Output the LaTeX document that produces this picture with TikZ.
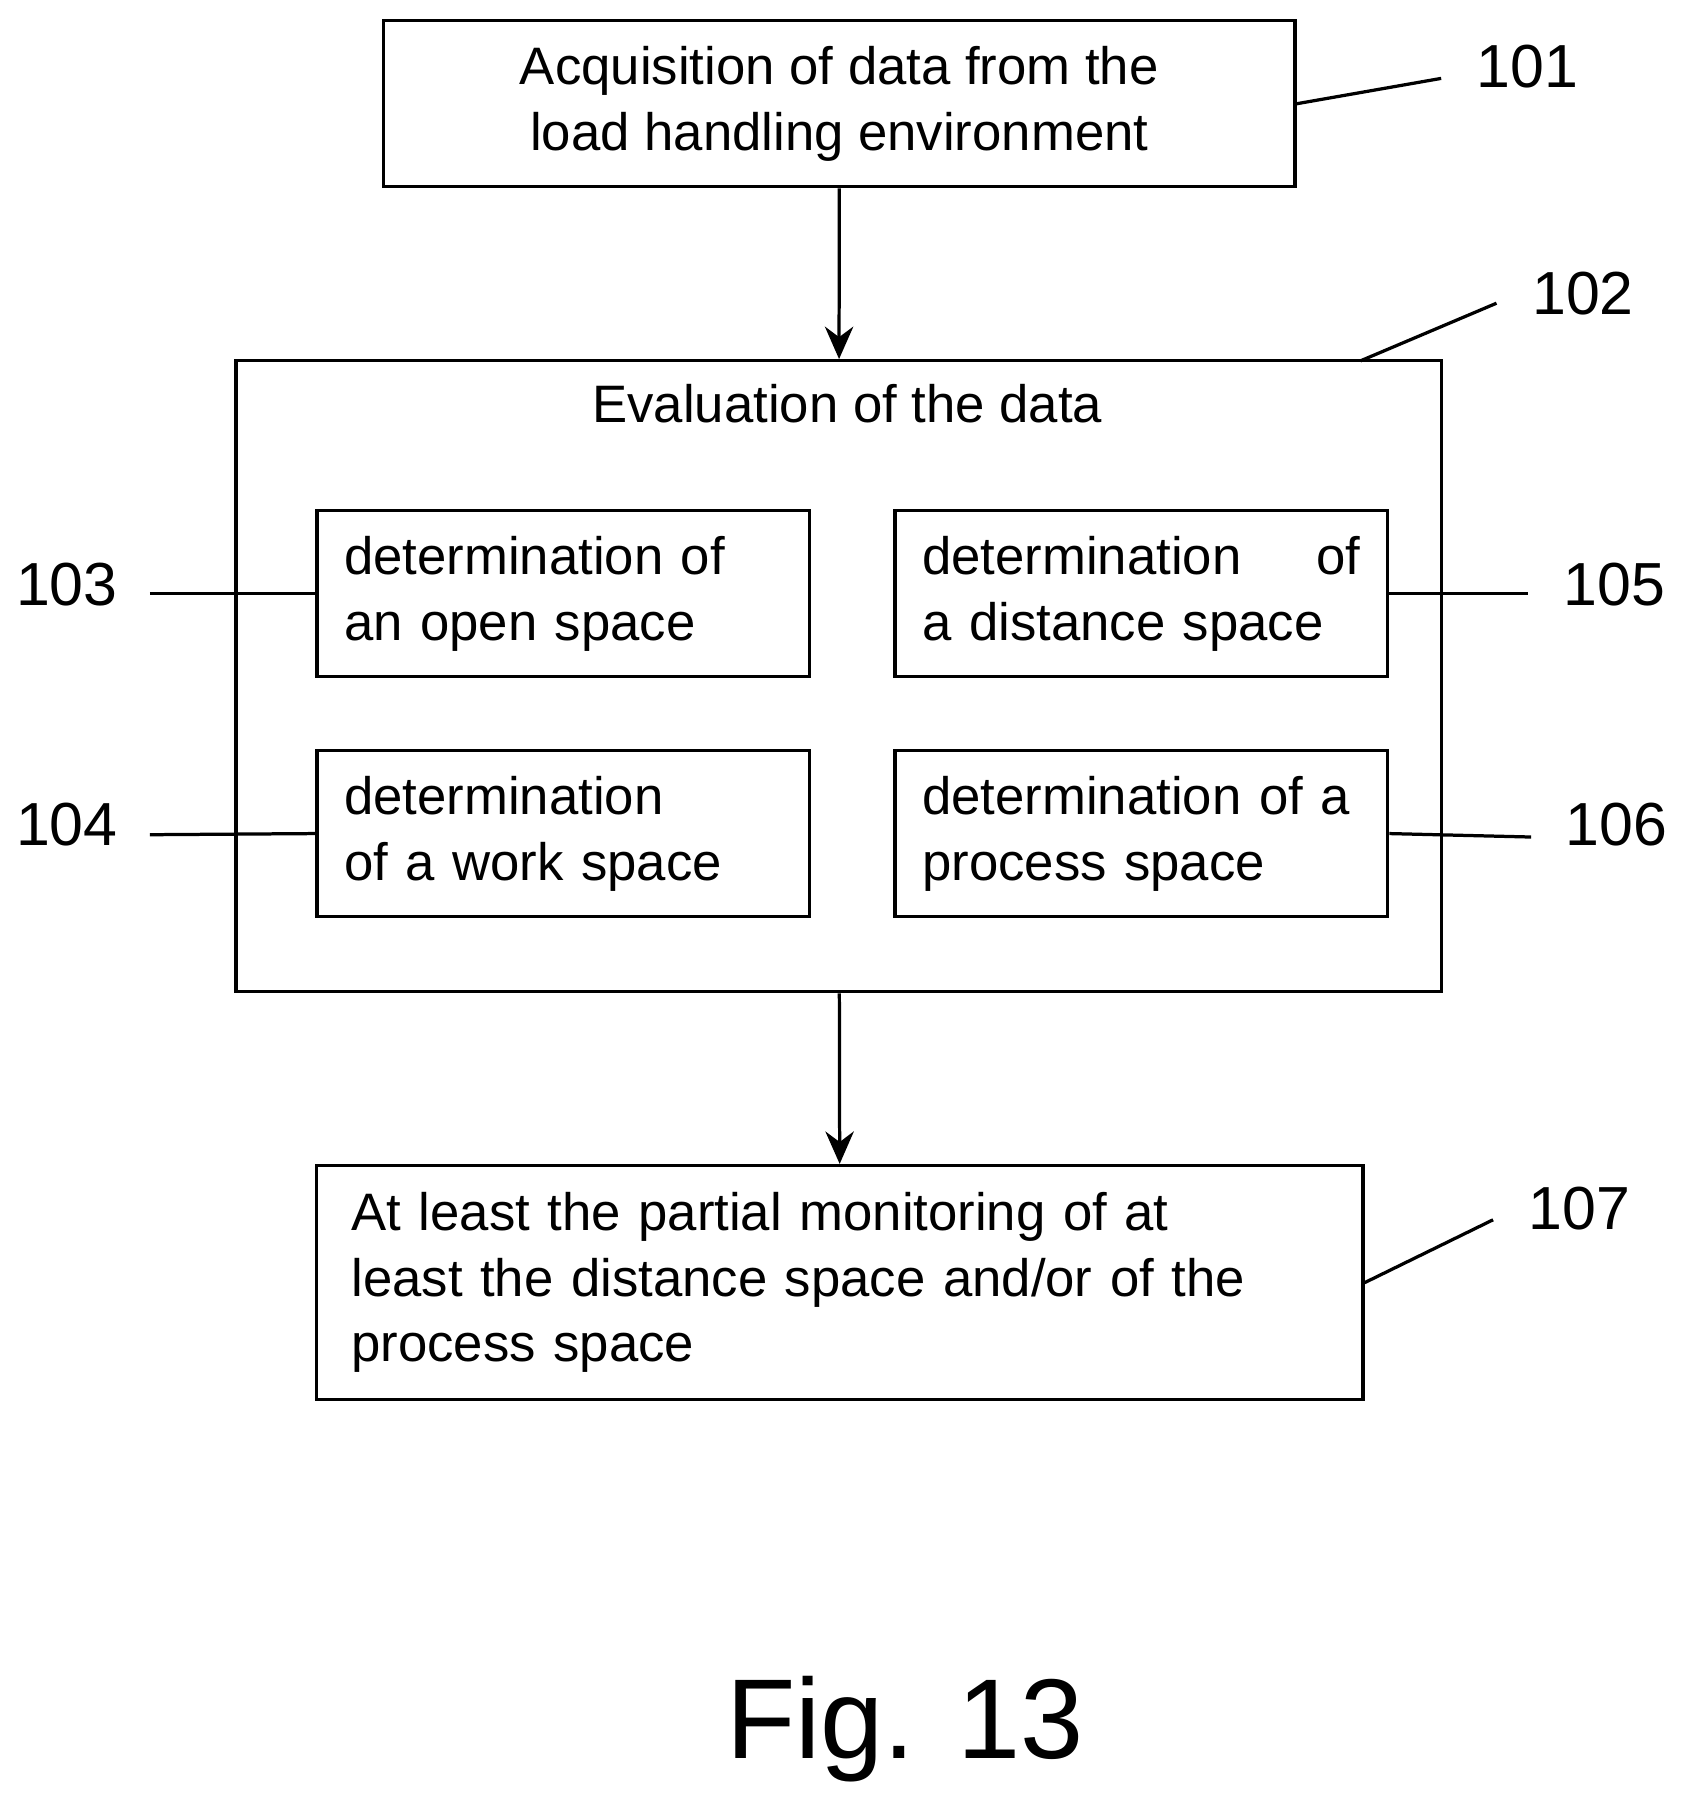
\documentclass[tikz,border=0pt]{standalone}
\usepackage{fontspec}
\setmainfont{Liberation Sans}
\usetikzlibrary{arrows.meta,positioning}
\tikzset{
    stage/.style={draw, thick, inner sep=0pt, font=\fontsize{13}{16.2}\selectfont},
    sub/.style={stage, minimum width=4.27cm, minimum height=1.44cm, text width=3.8cm, align=left},
    ref/.style={font=\fontsize{15}{18}\selectfont},
    flow/.style={thick, -{Stealth[length=8pt,width=7pt]}}
}
\begin{document}
\begin{tikzpicture}[x=0.01cm,y=-0.01cm]
\useasboundingbox (0,0) rectangle (1470,1576);
% boxes
\node[stage, minimum width=7.9cm, minimum height=1.44cm, align=center] (acq) at (728,90)
  {Acquisition of data from the\\load handling environment};
\node[stage, minimum width=10.45cm, minimum height=5.47cm] (eval) at (727.5,586.5) {};
\node[font=\fontsize{13}{16.2}\selectfont] (evtitle) at (735,350) {Evaluation of the data};
\node[sub] (open) at (488.5,515) {determination of\\an open space};
\node[sub] (dist) at (990,515) {determination\hfill of\\a distance space};
\node[sub] (work) at (488.5,723) {determination\\of a work space};
\node[sub] (proc) at (990,723) {determination of a\\process space};
\node[stage, minimum width=9.07cm, minimum height=2.03cm, text width=8.47cm, align=left] (mon) at (728.5,1112.5)
  {At least the partial monitoring of at\\least the distance space and/or of the\\process space\\[-2pt]};
% flow
\draw[flow] (acq) -- (eval);
\draw[flow] (eval) -- (mon);
% reference numerals
\node[ref] (r101) at (1325,58) {101};
\node[ref] (r102) at (1373,255) {102};
\node[ref] (r103) at (58,507) {103};
\node[ref] (r104) at (58,715) {104};
\node[ref] (r105) at (1400,507) {105};
\node[ref] (r106) at (1402,715) {106};
\node[ref] (r107) at (1370,1048) {107};
\coordinate (e101) at (1250,68);
\coordinate (e102) at (1298,263);
\coordinate (e103) at (130,515);
\coordinate (e104) at (130,724);
\coordinate (e105) at (1325,515);
\coordinate (e106) at (1328,726);
\coordinate (e107) at (1295,1058);
\draw[thick] (acq.east |- 0,90) -- (e101);
\draw[thick] (1180,313) -- (e102);
\draw[thick] (e103) -- (open.west);
\draw[thick] (e104) -- (work.west);
\draw[thick] (dist.east) -- (e105);
\draw[thick] (proc.east) -- (e106);
\draw[thick] (mon.east) -- (e107);
\node[font=\fontsize{28}{32}\selectfont] (fig) at (785,1500) {Fig. 13};
\end{tikzpicture}
\end{document}
